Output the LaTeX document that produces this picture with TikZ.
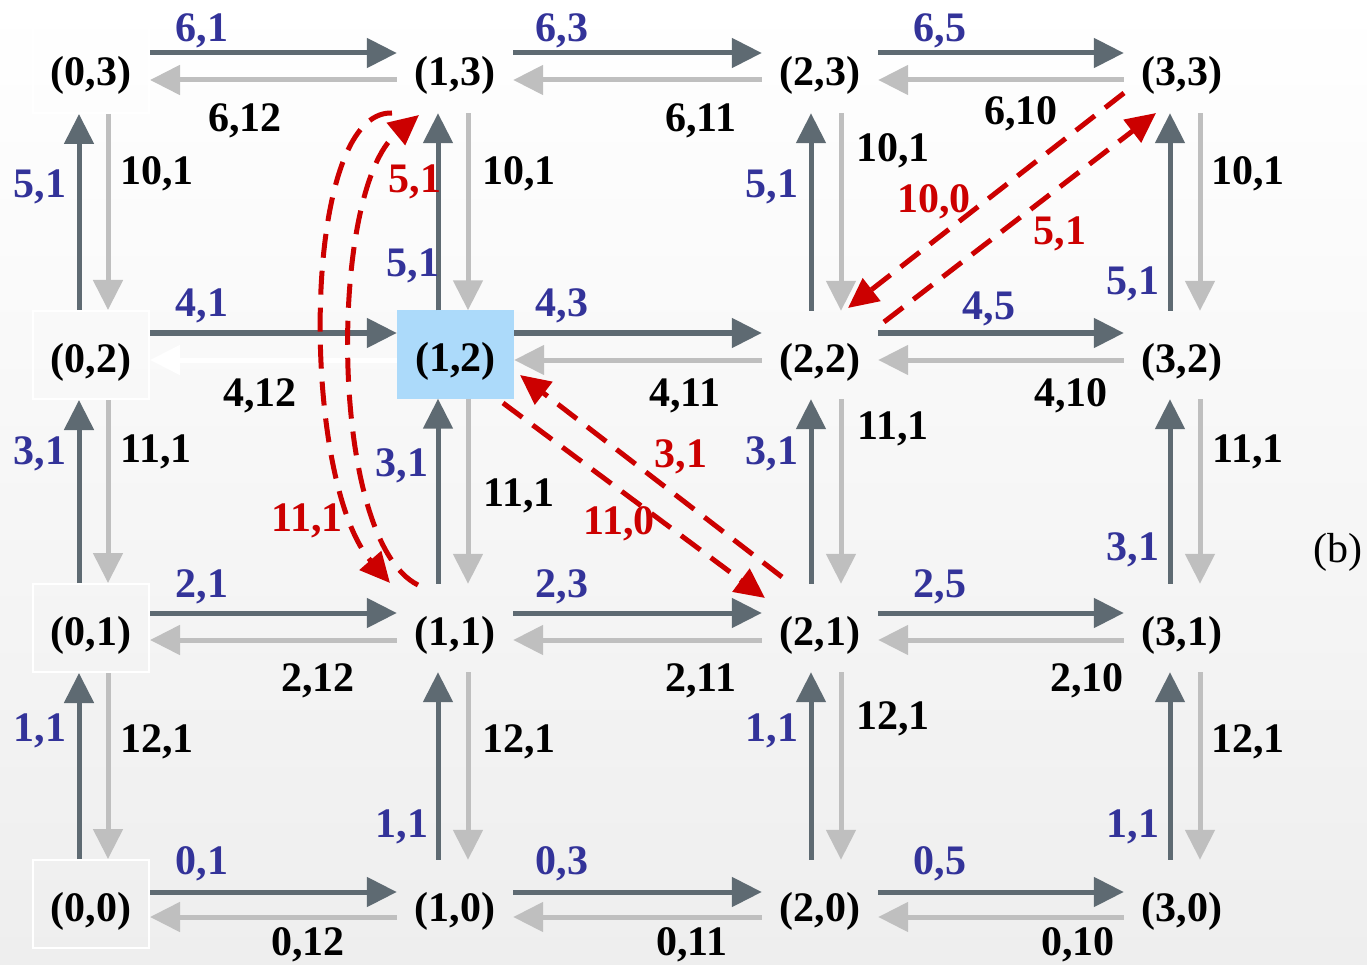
\documentclass[tikz,border=0pt]{standalone}
\usepackage{fontspec}
\setmainfont{Liberation Serif}
\usetikzlibrary{arrows.meta}
\definecolor{dk}{RGB}{94,106,114}
\definecolor{lt}{RGB}{191,191,191}
\definecolor{bl}{RGB}{51,51,153}
\definecolor{rd}{RGB}{204,0,0}
\definecolor{bx}{RGB}{172,218,250}
\definecolor{bgb}{RGB}{238,238,238}
\begin{document}
\begin{tikzpicture}[x=1pt,y=-1pt,
  st/.style={minimum width=116pt, minimum height=88pt, inner sep=0pt, text height=34pt, text depth=0pt, font=\fontsize{42}{50}\selectfont\bfseries},
  sbox/.style={st, draw=white, line width=2pt},
  darr/.style={draw=dk, line width=5pt, -{Triangle[length=30pt,width=29pt]}},
  larr/.style={draw=lt, line width=5pt, -{Triangle[length=30pt,width=29pt]}},
  warr/.style={draw=white, line width=5pt, -{Triangle[length=30pt,width=29pt]}},
  rarr/.style={draw=rd, line width=5pt, dash pattern=on 24pt off 13pt, -{Triangle[length=30pt,width=28pt]}},
  lab/.style={inner sep=0pt, text height=28.4pt, text depth=0pt, font=\fontsize{42}{50}\selectfont\bfseries},
  bt/.style={lab, text=bl},
  kt/.style={lab, text=black},
  rt/.style={lab, text=rd}
]
\useasboundingbox (0,0) rectangle (1367,965);
\shade[top color=white, bottom color=bgb] (0,0) rectangle (1367,965);

% nodes
\node[sbox] (n03) at (91,69) {(0,3)};
\node[sbox] (n02) at (91,355) {(0,2)};
\node[sbox] (n01) at (91,628) {(0,1)};
\node[sbox] (n00) at (91,904) {(0,0)};
\node[st] (n13) at (455,69) {(1,3)};
\node[st, fill=bx, minimum width=117pt] (n12) at (455.5,354.5) {(1,2)};
\node[st] (n11) at (455,628) {(1,1)};
\node[st] (n10) at (455,904) {(1,0)};
\node[st] (n23) at (820,69) {(2,3)};
\node[st] (n22) at (820,355) {(2,2)};
\node[st] (n21) at (820,628) {(2,1)};
\node[st] (n20) at (820,904) {(2,0)};
\node[st] (n33) at (1182,69) {(3,3)};
\node[st] (n32) at (1182,355) {(3,2)};
\node[st] (n31) at (1182,628) {(3,1)};
\node[st] (n30) at (1182,904) {(3,0)};

% horizontal arrows
\foreach \r/\yR/\yL in {3/53/80, 2/333/360, 1/613/640, 0/892/917} {
  \foreach \a/\b in {0/1, 1/2, 2/3} {
    \draw[darr] (n\a\r.east |- 0,\yR) -- (n\b\r.west |- 0,\yR);
    \ifnum\r\a=20 \def\sty{warr}\else\def\sty{larr}\fi
    \draw[\sty] (n\b\r.west |- 0,\yL) -- (n\a\r.east |- 0,\yL);
  }
}
% vertical arrows
\foreach \c/\xU/\xD in {0/79/108, 1/438/468, 2/811/841, 3/1170/1200} {
  \foreach \lo/\hi in {0/1, 1/2, 2/3} {
    \draw[darr] (\xU,0 |- n\c\lo.north) -- (\xU,0 |- n\c\hi.south);
    \draw[larr] (\xD,0 |- n\c\hi.south) -- (\xD,0 |- n\c\lo.north);
  }
}

% red dashed connectors
\coordinate (ca) at (392,113);
\coordinate (cb) at (390,583);
\coordinate (cc) at (418,585);
\coordinate (cd) at (419,115);
\draw[rarr] (ca) .. controls (300,110) and (300,480) .. (cb);
\draw[rarr] (cc) .. controls (328,540) and (328,190) .. (cd);
\coordinate (da) at (503,403);
\coordinate (db) at (765,598);
\coordinate (dc) at (782,577);
\coordinate (dd) at (520,375);
\draw[rarr] (da) -- (db);
\draw[rarr] (dc) -- (dd);
\coordinate (ea) at (1124,93);
\coordinate (eb) at (848,308);
\coordinate (ec) at (884,322);
\coordinate (ed) at (1156,113);
\draw[rarr] (ea) -- (eb);
\draw[rarr] (ec) -- (ed);

% blue labels
\foreach \x/\y/\t [count=\i] in {202/27/{6,1}, 562/27/{6,3}, 940/27/{6,5},
  40/183/{5,1}, 413/262/{5,1}, 772/183/{5,1}, 1133/280/{5,1},
  202/302/{4,1}, 562/302/{4,3}, 989/305/{4,5},
  40/450/{3,1}, 402/462/{3,1}, 772/450/{3,1}, 1133/546/{3,1},
  202/583/{2,1}, 562/583/{2,3}, 940/583/{2,5},
  40/727/{1,1}, 402/823/{1,1}, 772/727/{1,1}, 1133/823/{1,1},
  202/860/{0,1}, 562/860/{0,3}, 940/860/{0,5}}
  \node[bt] (b\i) at (\x,\y) {\t};

% black labels
\foreach \x/\y/\t [count=\i] in {245/117/{6,12}, 701/117/{6,11}, 1021/110/{6,10},
  157/170/{10,1}, 519/170/{10,1}, 893/147/{10,1}, 1248/170/{10,1},
  260/392/{4,12}, 685/392/{4,11}, 1071/392/{4,10},
  156/448/{11,1}, 519/492/{11,1}, 893/425/{11,1}, 1248/448/{11,1},
  318/677/{2,12}, 701/677/{2,11}, 1087/677/{2,10},
  157/738/{12,1}, 519/738/{12,1}, 893/715/{12,1}, 1248/738/{12,1},
  308/941/{0,12}, 692/941/{0,11}, 1078/941/{0,10}}
  \node[kt] (k\i) at (\x,\y) {\t};

% red labels
\foreach \x/\y/\t [count=\i] in {415/178/{5,1}, 307/517/{11,1}, 681/453/{3,1},
  619/520/{11,0}, 934/198/{10,0}, 1060/230/{5,1}}
  \node[rt] (r\i) at (\x,\y) {\t};

\node[lab, font=\fontsize{42}{50}\selectfont] (cap) at (1338,548) {(b)};
\end{tikzpicture}
\end{document}
